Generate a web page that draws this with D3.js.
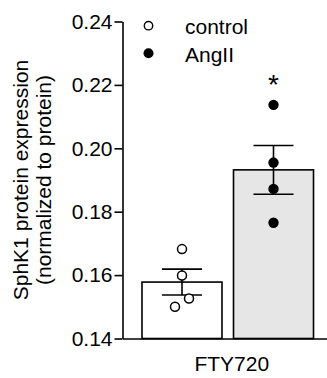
<!DOCTYPE html>
<html>
<head>
<meta charset="utf-8">
<script src="https://cdn.jsdelivr.net/npm/d3@7"></script>
<style>
  body { margin: 0; background: #fff; }
  text { font-family: Arial, "Liberation Sans", sans-serif; fill: #000; }
</style>
</head>
<body>
<div id="chart"></div>
<script>
// data
var groups = ["control", "AngII"];
var means = [0.1578, 0.1932];
var sems = [0.0041, 0.0077];
var controlPoints = [0.1682, 0.1599, 0.1500, 0.1526];
var angPoints = [0.2137, 0.1955, 0.1872, 0.1765];
var pointOffsets = [0, 0, -7, 7]; // horizontal jitter in px as drawn
var yTicks = [0.14, 0.16, 0.18, 0.20, 0.22, 0.24];
var category = "FTY720";

var svgWidth = 327;
var svgHeight = 378;
var fontSize = "21px";

var svg = d3.select("#chart")
  .append("svg")
  .attr("width", svgWidth)
  .attr("height", svgHeight);

// scales
var y = d3.scaleLinear()
  .domain([0.14, 0.24])
  .range([338.5, 21.5]);

var x = d3.scaleBand()
  .domain(groups)
  .range([142, 313.5])
  .paddingInner(0.1257)
  .paddingOuter(0);

var fills = { control: "#ffffff", AngII: "#e6e6e6" };

// bars
svg.selectAll("rect.bar")
  .data(groups)
  .enter()
  .append("rect")
  .attr("class", "bar")
  .attr("x", d => x(d))
  .attr("y", (d, i) => y(means[i]))
  .attr("width", x.bandwidth())
  .attr("height", (d, i) => y(0.14) - y(means[i]))
  .attr("fill", d => fills[d])
  .attr("stroke", "#000")
  .attr("stroke-width", 1.6);

// error bars
var capW = 20;
groups.forEach(function (g, i) {
  var cx = x(g) + x.bandwidth() / 2;
  var top = y(means[i] + sems[i]);
  var bot = y(means[i] - sems[i]);
  svg.append("line")
    .attr("x1", cx).attr("x2", cx)
    .attr("y1", top).attr("y2", bot)
    .attr("stroke", "#000").attr("stroke-width", 1.6);
  [top, bot].forEach(function (yy) {
    svg.append("line")
      .attr("x1", cx - capW).attr("x2", cx + capW)
      .attr("y1", yy).attr("y2", yy)
      .attr("stroke", "#000").attr("stroke-width", 1.6);
  });
});

// points
var cx0 = x("control") + x.bandwidth() / 2;
svg.selectAll("circle.ctrl")
  .data(controlPoints)
  .enter()
  .append("circle")
  .attr("class", "ctrl")
  .attr("cx", (d, i) => cx0 + pointOffsets[i])
  .attr("cy", d => y(d))
  .attr("r", 4.5)
  .attr("fill", "#fff")
  .attr("stroke", "#000")
  .attr("stroke-width", 1.5);

var cx1 = x("AngII") + x.bandwidth() / 2;
svg.selectAll("circle.ang")
  .data(angPoints)
  .enter()
  .append("circle")
  .attr("class", "ang")
  .attr("cx", cx1)
  .attr("cy", d => y(d))
  .attr("r", 5.2)
  .attr("fill", "#000");

// significance star
svg.append("text")
  .attr("x", cx1)
  .attr("y", 94)
  .attr("text-anchor", "middle")
  .style("font-size", "28px")
  .text("*");

// y axis
var leftAxis = d3.axisLeft(y)
  .tickValues(yTicks)
  .tickFormat(d3.format(".2f"))
  .tickSize(8)
  .tickSizeOuter(0)
  .tickPadding(2);

var yAxisG = svg.append("g")
  .attr("transform", "translate(122.5,0)")
  .call(leftAxis);
yAxisG.select(".domain").attr("stroke-width", 1.6);
yAxisG.selectAll(".tick line").attr("stroke-width", 1.6);
yAxisG.selectAll(".tick text")
  .style("font-size", fontSize)
  .style("font-family", "Arial, 'Liberation Sans', sans-serif");

// x axis (baseline only)
var x0 = d3.scaleBand().domain([category]).range([122.5, 341]);
var bottomAxis = d3.axisBottom(x0).tickSize(0).tickSizeOuter(0).tickPadding(18);
var xAxisG = svg.append("g")
  .attr("transform", "translate(0," + y(0.14) + ")")
  .call(bottomAxis);
xAxisG.select(".domain").attr("stroke-width", 1.6);
xAxisG.selectAll(".tick text")
  .style("font-size", fontSize)
  .style("font-family", "Arial, 'Liberation Sans', sans-serif");

// y axis label
var yLab = svg.append("text")
  .attr("transform", "translate(28," + (y(0.19)) + ") rotate(-90)")
  .attr("text-anchor", "middle")
  .style("font-size", fontSize);
yLab.append("tspan").attr("x", 0).attr("y", 0).text("SphK1 protein expression");
yLab.append("tspan").attr("x", 0).attr("y", 23).text("(normalized to protein)");

// legend
var legend = svg.append("g");
legend.append("circle")
  .attr("cx", 148.5).attr("cy", 25.7).attr("r", 4.2)
  .attr("fill", "#fff").attr("stroke", "#000").attr("stroke-width", 1.4);
legend.append("circle")
  .attr("cx", 148.5).attr("cy", 53.3).attr("r", 5)
  .attr("fill", "#000");
legend.selectAll("text")
  .data(groups)
  .enter()
  .append("text")
  .attr("x", 185)
  .attr("y", (d, i) => 33.5 + i * 28)
  .style("font-size", fontSize)
  .text(d => d);
</script>
</body>
</html>
